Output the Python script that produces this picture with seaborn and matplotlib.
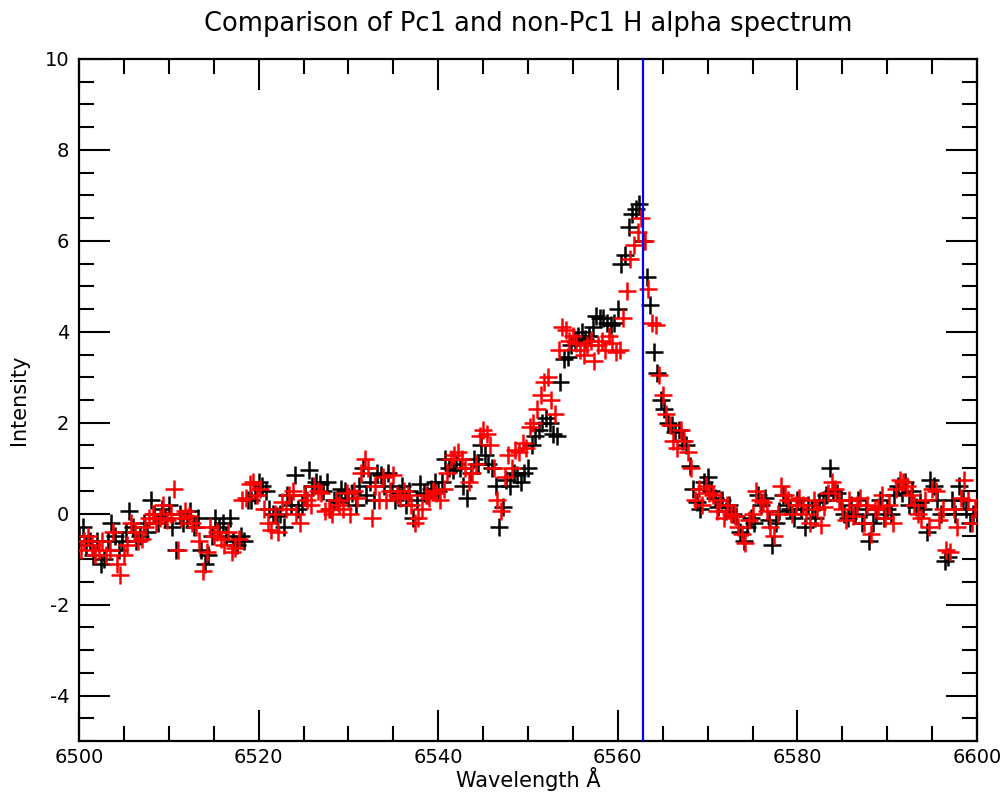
import numpy as np
import pandas as pd
import matplotlib
matplotlib.use("Agg")
import matplotlib.pyplot as plt
import seaborn as sns
from matplotlib.ticker import MultipleLocator

# ---------------- data ----------------
wl_start_black = 6500.0
wl_start_red = 6500.2
wl_step = 0.4

black_intensity = [
    # 6500-6510
    -0.5, -0.3, -0.7, -0.6, -0.9, -0.6, -1.1, -1.0, -0.6, -0.2, -0.5, -0.8, -0.6, -0.4, 0.05, -0.3, -0.6, -0.5, -0.2, -0.4, 0.3, 0.0, -0.2, 0.1, -0.1,
    # 6510-6520
    0.2, -0.3, -0.8, 0.0, -0.2, -0.1, 0.05, -0.3, -0.1, -0.8, -1.1, -0.9, -0.5, -0.1, -0.3, -0.2, -0.5, -0.1, -0.6, -0.7, -0.5, -0.6, 0.3, 0.3, 0.4,
    # 6520-6530
    0.7, 0.6, 0.5, 0.1, 0.0, -0.05, 0.0, -0.3, 0.4, 0.2, 0.85, 0.1, 0.2, 0.4, 0.95, 0.6, 0.7, 0.65, 0.5, 0.7, 0.1, 0.3, 0.25, 0.55, 0.5,
    # 6530-6540
    0.35, 0.45, 0.2, 0.6, 1.0, 0.4, 0.7, 0.3, 0.9, 0.85, 0.6, 0.9, 0.5, 0.3, 0.45, 0.6, 0.2, 0.5, -0.1, 0.3, 0.65, 0.45, 0.4, 0.55, 0.7,
    # 6540-6550
    0.5, 0.7, 1.2, 1.0, 0.95, 1.1, 1.0, 0.6, 0.35, 0.9, 1.2, 1.1, 1.5, 1.3, 1.1, 1.0, 0.6, -0.3, 0.15, 0.75, 0.6, 0.9, 0.85, 0.7, 0.9,
    # 6550-6560
    1.0, 1.5, 1.7, 1.85, 2.0, 2.1, 2.0, 1.75, 1.7, 2.9, 3.4, 3.45, 3.7, 3.8, 3.9, 4.0, 3.85, 3.9, 4.1, 4.35, 4.3, 4.3, 4.2, 4.15, 4.2,
    # 6560-6570
    4.5, 5.5, 5.7, 6.3, 6.6, 6.7, 6.8, 6.0, 5.2, 4.6, 3.55, 3.1, 2.5, 2.3, 2.0, 1.95, 1.8, 1.85, 1.6, 1.5, 1.05, 0.55, 0.25, 0.1, 0.7,
    # 6570-6580
    0.8, 0.5, 0.35, 0.15, 0.3, 0.05, 0.2, 0.0, -0.05, -0.4, -0.6, -0.3, -0.1, -0.2, 0.4, 0.2, 0.35, -0.15, -0.7, -0.2, 0.05, 0.4, 0.2, 0.1, -0.1,
    # 6580-6590
    0.3, 0.1, -0.3, 0.2, 0.1, -0.1, 0.25, 0.3, 0.4, 1.0, 0.5, 0.45, 0.3, 0.0, -0.1, 0.2, 0.0, 0.3, -0.2, 0.1, -0.6, -0.2, 0.0, 0.3, -0.1,
    # 6590-6600
    0.1, 0.0, 0.4, 0.6, 0.45, 0.7, 0.2, 0.5, 0.15, 0.25, 0.1, -0.4, 0.75, 0.6, 0.3, 0.0, -1.05, -0.95, 0.3, 0.0, 0.6, 0.3, 0.1, -0.2, 0.0,
]

red_intensity = [
    # 6500-6510
    -0.8, -0.6, -0.5, -0.7, -0.9, -0.8, -0.6, -0.9, -0.8, -0.4, -1.1, -1.35, -0.9, -0.7, -0.2, -0.4, -0.6, -0.55, -0.3, -0.1, 0.0, -0.2, -0.1, 0.2, -0.15,
    # 6510-6520
    0.0, 0.55, -0.8, -0.1, 0.05, -0.05, -0.2, -0.3, -0.6, -1.25, -0.85, -0.3, -0.5, -0.4, -0.55, -0.7, -0.4, -0.85, -0.75, -0.55, 0.3, 0.35, 0.65, 0.7, 0.4,
    # 6520-6530
    0.55, 0.1, -0.2, -0.35, 0.0, -0.4, 0.25, 0.1, 0.4, 0.5, 0.0, -0.2, 0.4, 0.3, 0.2, 0.6, 0.5, 0.45, 0.05, 0.1, 0.0, 0.3, 0.2, 0.1, 0.45,
    # 6530-6540
    0.0, 0.5, 0.35, 0.9, 1.2, 1.0, -0.1, 0.6, 0.3, 0.8, 0.3, 0.5, 0.85, 0.4, 0.35, 0.5, 0.4, 0.2, -0.2, -0.1, 0.1, 0.4, 0.35, 0.5, 0.45,
    # 6540-6550
    0.3, 0.55, 0.9, 1.2, 1.3, 1.35, 1.2, 1.0, 0.7, 0.9, 1.1, 1.7, 1.85, 1.75, 1.5, 1.0, 0.3, 0.05, 0.8, 1.3, 1.0, 1.4, 1.35, 1.55, 1.45,
    # 6550-6560
    1.9, 2.0, 2.3, 2.6, 2.9, 3.0, 2.5, 2.2, 3.6, 4.1, 4.05, 3.8, 3.9, 3.75, 3.6, 3.5, 3.7, 3.8, 3.35, 3.7, 3.8, 3.6, 3.9, 3.75, 3.55,
    # 6560-6570
    3.6, 4.3, 4.9, 5.6, 5.9, 6.2, 6.5, 6.0, 4.95, 4.2, 4.15, 3.05, 2.6, 2.2, 1.95, 1.6, 1.45, 1.85, 1.6, 1.35, 1.0, 0.3, 0.55, 0.2, 0.6,
    # 6570-6580
    0.45, 0.4, 0.05, 0.3, -0.1, 0.2, 0.0, -0.05, -0.3, -0.45, -0.65, -0.15, 0.0, 0.5, 0.3, 0.25, 0.05, -0.3, -0.5, 0.0, 0.6, 0.4, 0.3, 0.0, 0.2,
    # 6580-6590
    0.35, 0.2, 0.0, -0.2, 0.3, 0.1, -0.25, 0.15, 0.45, 0.7, 0.55, 0.3, 0.1, -0.15, 0.3, -0.05, 0.2, 0.35, -0.2, 0.2, -0.45, 0.1, 0.15, 0.4, -0.1,
    # 6590-6600
    0.2, -0.2, 0.55, 0.75, 0.7, 0.6, 0.4, 0.2, 0.0, -0.1, 0.3, -0.3, 0.55, 0.5, -0.15, 0.1, -0.8, -0.85, 0.1, -0.3, 0.35, 0.75, 0.3, -0.2, 0.1,
]

h_alpha_line = 6562.8
title = "Comparison of Pc1 and non-Pc1 H alpha spectrum"
x_label = "Wavelength Å"
y_label = "Intensity"

black_wl = wl_start_black + wl_step * np.arange(len(black_intensity))
red_wl = wl_start_red + wl_step * np.arange(len(red_intensity))

df_black = pd.DataFrame({"wl": black_wl, "I": black_intensity})
df_red = pd.DataFrame({"wl": red_wl, "I": red_intensity})

# ---------------- plot ----------------
sns.set_theme(style="white")
plt.rcParams["font.family"] = ["DejaVu Sans"]
plt.rcParams["axes.unicode_minus"] = False
plt.rcParams["text.color"] = "black"
plt.rcParams["axes.labelcolor"] = "black"

fig = plt.figure(figsize=(10.04, 7.92), dpi=100)
ax = fig.add_axes([79 / 1004, 51 / 792, (977 - 79) / 1004, (741 - 59) / 792])

sns.scatterplot(data=df_black, x="wl", y="I", marker="+", color="black",
                s=150, linewidth=1.8, ax=ax, zorder=3)
sns.scatterplot(data=df_red, x="wl", y="I", marker="+", color="red",
                s=150, linewidth=1.8, ax=ax, zorder=4)
ax.axvline(h_alpha_line, color="blue", lw=1.6, zorder=5)

ax.set_xlim(6500, 6600)
ax.set_ylim(-5, 10)
ax.xaxis.set_major_locator(MultipleLocator(20))
ax.xaxis.set_minor_locator(MultipleLocator(5))
ax.yaxis.set_major_locator(MultipleLocator(2))
ax.yaxis.set_minor_locator(MultipleLocator(0.5))

ax.tick_params(which="both", direction="in", top=True, right=True,
               bottom=True, left=True, colors="black", width=1.5,
               labelcolor="black")
ax.tick_params(which="major", length=22, labelsize=14)
ax.tick_params(which="minor", length=11)
ax.tick_params(axis="x", which="major", pad=5)
ax.tick_params(axis="y", which="major", pad=7)

for sp in ax.spines.values():
    sp.set_color("black")
    sp.set_linewidth(1.6)

ax.set_xlabel(x_label, fontsize=15, labelpad=0, color="black")
ax.set_ylabel(y_label, fontsize=15, labelpad=11, color="black")
ax.set_title(title, fontsize=18.5, pad=20, color="black")

fig.savefig("out.png", dpi=100)
